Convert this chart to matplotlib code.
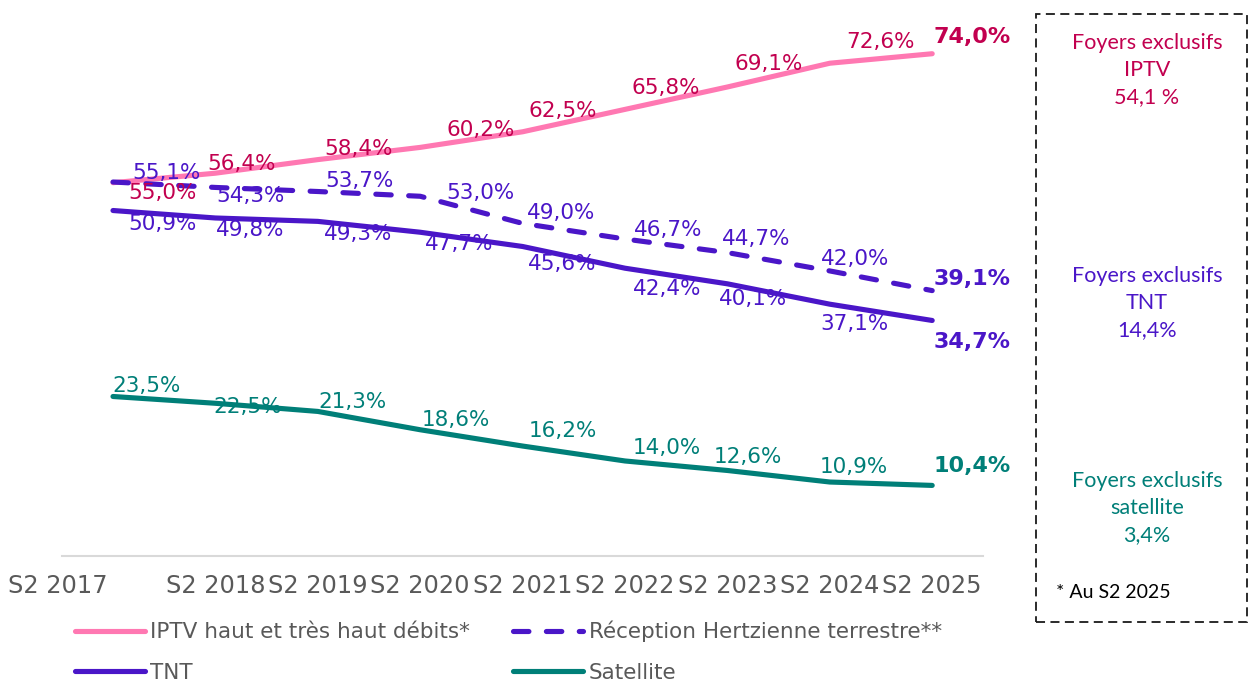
import matplotlib
matplotlib.use("Agg")
import matplotlib.pyplot as plt
import matplotlib.transforms as mtransforms
from matplotlib.patches import Rectangle

# data
periods = ["S2 2017", "S2 2018", "S2 2019", "S2 2020", "S2 2021",
           "S2 2022", "S2 2023", "S2 2024", "S2 2025"]
iptv = [55.0, 56.4, 58.4, 60.2, 62.5, 65.8, 69.1, 72.6, 74.0]
hertz = [55.1, 54.3, 53.7, 53.0, 49.0, 46.7, 44.7, 42.0, 39.1]
tnt = [50.9, 49.8, 49.3, 47.7, 45.6, 42.4, 40.1, 37.1, 34.7]
satellite = [23.5, 22.5, 21.3, 18.6, 16.2, 14.0, 12.6, 10.9, 10.4]

series_names = ["IPTV haut et très haut débits*",
                "Réception Hertzienne terrestre**", "TNT", "Satellite"]
box_titles = ["Foyers exclusifs\nIPTV\n54,1 %",
              "Foyers exclusifs\nTNT\n14,4%",
              "Foyers exclusifs\nsatellite\n3,4%"]
box_note = "* Au S2 2025"

# label offsets in pixels (dx right, dy down) for the first 8 points
iptv_off = [(49, 10), (26, -9), (41, -11), (60, -17), (40, -21), (41, -21), (41, -23), (51, -21)]
hertz_off = [(53, -9), (35, 9), (42, -11), (60, -3), (39, -10), (43, -9), (29, -14), (25, -12)]
tnt_off = [(49, 13), (35, 12), (40, 13), (39, 12), (40, 18), (42, 21), (26, 15), (25, 20)]
sat_off = [(34, -10), (32, 4), (35, -9), (36, -10), (40, -15), (42, -13), (20, -13), (24, -15)]
end_dy = [-17, -12, 22, -19]

PINK = "#FF78B2"
CRIMSON = "#C2004F"
PURPLE = "#4A16C8"
TEAL = "#007F78"
GREY = "#595959"

fig = plt.figure(figsize=(12.5, 6.81), dpi=100)
W, H = 1250, 681
ax = fig.add_axes([61.8 / W, (H - 556) / H, (983.4 - 61.8) / W, (556 - 13) / H])

x = list(range(len(periods)))
lw = 3.7
l1, = ax.plot(x, iptv, color=PINK, lw=lw, solid_capstyle="round", solid_joinstyle="round")
l2, = ax.plot(x, hertz, color=PURPLE, lw=lw, dashes=(3.0, 3.4),
              dash_capstyle="round", dash_joinstyle="round")
l3, = ax.plot(x, tnt, color=PURPLE, lw=lw, solid_capstyle="round", solid_joinstyle="round")
l4, = ax.plot(x, satellite, color=TEAL, lw=lw, solid_capstyle="round", solid_joinstyle="round")

def fmt(v):
    return f"{v:.1f}".replace(".", ",") + "%"

groups = [(iptv, iptv_off, CRIMSON), (hertz, hertz_off, PURPLE),
          (tnt, tnt_off, PURPLE), (satellite, sat_off, TEAL)]
for (vals, offs, col), edy in zip(groups, end_dy):
    for i, (v, (dx, dy)) in enumerate(zip(vals[:-1], offs)):
        ax.annotate(fmt(v), (i, v), xytext=(dx, -dy), textcoords="offset pixels",
                    ha="center", va="center", fontsize=15.5, color=col)
    ax.annotate(fmt(vals[-1]), (len(vals) - 1, vals[-1]), xytext=(1, -edy),
                textcoords="offset pixels", ha="left", va="center",
                fontsize=16, fontweight="bold", color=col)

ax.set_xlim(-0.5, len(periods) - 0.5)
ax.set_ylim(0, 80)
for s in ["top", "right", "left"]:
    ax.spines[s].set_visible(False)
ax.spines["bottom"].set_color("#D9D9D9")
ax.spines["bottom"].set_linewidth(1.5)
ax.set_yticks([])
ax.set_xticks(x)
ax.set_xticklabels(periods, fontsize=17.3, color=GREY)
ax.tick_params(axis="x", length=0, pad=13)
first = ax.get_xticklabels()[0]
first.set_transform(first.get_transform()
                    + mtransforms.ScaledTranslation(-55 / 100, 0, fig.dpi_scale_trans))

# legend fills column by column: IPTV/TNT left, Hertzienne/Satellite right
handles = [l1, l3, l2, l4]
labels = [series_names[0], series_names[2], series_names[1], series_names[3]]
fig.legend(handles, labels, ncol=2, loc="upper left",
           bbox_to_anchor=(75 / W, 1 - 621 / H), frameon=False,
           fontsize=15.5, labelcolor=GREY, handlelength=3.25,
           handletextpad=0.25, columnspacing=2.0, labelspacing=0.95,
           borderpad=0, borderaxespad=0)

# right-hand dashed box
fig.patches.append(Rectangle((1036 / W, 1 - 622 / H), (1247 - 1036) / W, (622 - 14) / H,
                             transform=fig.transFigure, fill=False, edgecolor="#1a1a1a",
                             lw=1.3, linestyle=(0, (5, 3))))
for txt, yc, col in zip(box_titles, [70, 303, 508], [CRIMSON, PURPLE, TEAL]):
    fig.text(1147 / W, 1 - yc / H, txt, ha="center", va="center", color=col,
             fontsize=15.5, family="Lato", linespacing=1.42)
fig.text(1056 / W, 1 - 593 / H, box_note, ha="left", va="center", color="black",
         fontsize=14, family="Lato")

fig.savefig("out.png", dpi=100)
